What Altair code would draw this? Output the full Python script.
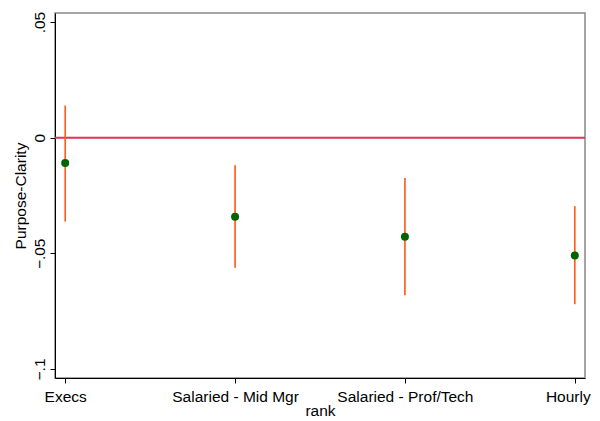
import altair as alt
import pandas as pd

categories = ["Execs", "Salaried - Mid Mgr", "Salaried - Prof/Tech", "Hourly"]
positions = [1, 2, 3, 4]
estimates = [-0.0109, -0.0342, -0.0428, -0.0509]
ci_low = [-0.0363, -0.0562, -0.0681, -0.0720]
ci_high = [0.0139, -0.0119, -0.0174, -0.0296]
y_ticks = [-0.1, -0.05, 0, 0.05]

df = pd.DataFrame({
    "rank": categories,
    "pos": positions,
    "est": estimates,
    "lo": ci_low,
    "hi": ci_high,
})

label_expr = ("datum.value == 1 ? 'Execs' : datum.value == 2 ? 'Salaried - Mid Mgr' : "
              "datum.value == 3 ? 'Salaried - Prof/Tech' : datum.value == 4 ? 'Hourly' : ''")
ylab_expr = ("datum.value == 0 ? '0' : replace(format(datum.value, '.2~f'), '0.', '.')")

FONT = "Liberation Sans"
FS = 15.5

x_scale = alt.Scale(domain=[0.94, 4.06], nice=False, zero=False)
x_enc = alt.X("pos:Q", scale=x_scale,
              axis=alt.Axis(title="rank", values=positions, labelExpr=label_expr,
                            grid=False, domainColor="black", tickColor="black",
                            tickSize=5, labelPadding=6, labelFontSize=FS,
                            labelFont=FONT, labelColor="black", titleFont=FONT,
                            titleFontSize=FS, titleFontWeight="normal",
                            titleColor="black", titleY=25, titleBaseline="top",
                            labelOffset={"condition": {"test": "datum.value == 4", "value": -7},
                                         "value": 0},
                            labelOverlap=False, labelFlush=False))
y_scale = alt.Scale(domain=[-0.1039, 0.0539], nice=False, zero=False)
y_axis = alt.Axis(title="Purpose-Clarity", values=y_ticks, labelExpr=ylab_expr,
                  grid=False, domainColor="black", tickColor="black", tickSize=5,
                  labelAngle=270, labelAlign="center", labelBaseline="bottom",
                  labelPadding=3, labelFontSize=FS, labelFont=FONT,
                  labelColor="black", titleFont=FONT, titleFontSize=FS,
                  titleFontWeight="normal", titleColor="black", titlePadding=4)

bars = alt.Chart(df).mark_rule(color="#ff5f1f", strokeWidth=1.7).encode(
    x=x_enc,
    y=alt.Y("lo:Q", scale=y_scale, axis=y_axis),
    y2="hi:Q",
)

zero = alt.Chart(pd.DataFrame({"z": [0]})).mark_rule(color="#e0305c", strokeWidth=2).encode(
    y=alt.Y("z:Q", scale=y_scale),
)

points = alt.Chart(df).mark_point(filled=True, color="#006400", size=64, opacity=1).encode(
    x=alt.X("pos:Q", scale=x_scale),
    y=alt.Y("est:Q", scale=y_scale),
)

chart = alt.layer(zero, bars, points).properties(
    width=530,
    height=365,
    autosize=alt.AutoSizeParams(type="none"),
    padding={"left": 47, "top": 5, "right": 7, "bottom": 44},
    background="white",
).configure_view(stroke="#888888", strokeWidth=1.5)

chart.save("out.html", embed_options={"renderer": "svg", "actions": False})
